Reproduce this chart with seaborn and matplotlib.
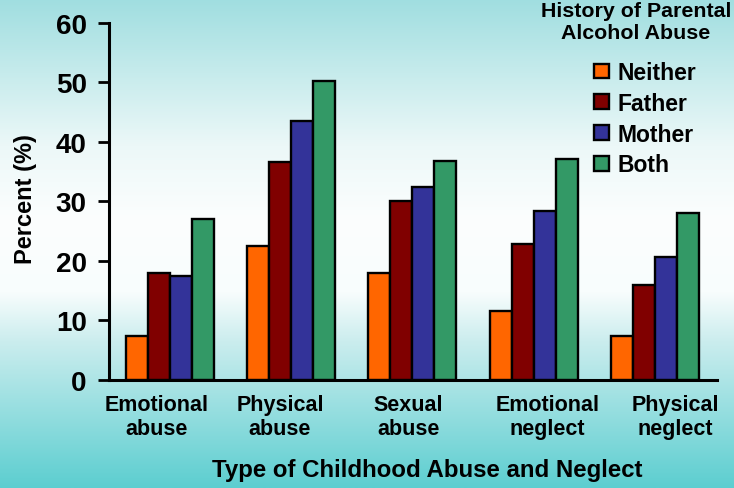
import numpy as np
import pandas as pd
import matplotlib
matplotlib.use("Agg")
import matplotlib.pyplot as plt
import matplotlib.transforms as mtransforms
import seaborn as sns

# ---- data ----
categories = ["Emotional\nabuse", "Physical\nabuse", "Sexual\nabuse",
              "Emotional\nneglect", "Physical\nneglect"]
series = ["Neither", "Father", "Mother", "Both"]
neither = [7.4, 22.5, 18.0, 11.6, 7.3]
father = [17.9, 36.6, 30.0, 22.9, 15.9]
mother = [17.4, 43.4, 32.4, 28.4, 20.6]
both = [27.0, 50.2, 36.7, 37.1, 28.0]
yticks = [0, 10, 20, 30, 40, 50, 60]
legend_title = "History of Parental\nAlcohol Abuse"

colors = ["#FF6600", "#800000", "#333399", "#339966"]
label_dx = [-13, -11, -4, 14, 20]  # px offsets of category labels

rows = []
for s, vals in zip(series, [neither, father, mother, both]):
    for c, v in zip(categories, vals):
        rows.append({"cat": c, "series": s, "val": v})
df = pd.DataFrame(rows)

sns.set_style("ticks")
plt.rcParams["font.family"] = ["Liberation Sans", "DejaVu Sans"]
plt.rcParams["font.weight"] = "bold"
for k in ["text.color", "axes.labelcolor", "xtick.color", "ytick.color",
          "xtick.labelcolor", "ytick.labelcolor"]:
    plt.rcParams[k] = "black"

fig = plt.figure(figsize=(7.34, 4.89), dpi=100)

# background gradient
bg = fig.add_axes([0, 0, 1, 1], zorder=-10)
stops = [0.0, 0.30, 0.45, 0.60, 0.70, 1.0]
cols = np.array([(160, 222, 224), (236, 248, 248), (252, 254, 254),
                 (248, 253, 253), (203, 237, 238), (92, 206, 208)]) / 255.0
yy = np.linspace(0, 1, 489)
grad = np.stack([np.interp(yy, stops, cols[:, i]) for i in range(3)], axis=-1)
bg.imshow(grad[:, None, :], aspect="auto", extent=[0, 1, 0, 1], origin="upper")
bg.set_axis_off()

ax = fig.add_axes([0.1485, 0.2209, 0.828, 0.731])
ax.patch.set_alpha(0)

sns.barplot(data=df, x="cat", y="val", hue="series", palette=colors,
            width=0.725, saturation=1, edgecolor="black", linewidth=1.7,
            ax=ax, errorbar=None)

ax.set_xlim(-0.5, 4.51)
ax.set_ylim(0, 60)
ax.set_yticks(yticks)
ax.set_yticklabels([str(t) for t in yticks], fontsize=20, fontweight="bold")
ax.tick_params(axis="y", length=8, width=2, pad=8, direction="out")
ax.tick_params(axis="x", length=0, pad=10, labelsize=15.5)
for lab in ax.get_xticklabels():
    lab.set_fontweight("bold")
for lab, dx in zip(ax.get_xticklabels(), label_dx):
    lab.set_transform(lab.get_transform() +
                      mtransforms.ScaledTranslation(dx / 100, 0, fig.dpi_scale_trans))

for s in ["top", "right"]:
    ax.spines[s].set_visible(False)
for s in ["left", "bottom"]:
    ax.spines[s].set_linewidth(2.2)
    ax.spines[s].set_color("black")

ax.set_xlabel("Type of Childhood Abuse and Neglect", fontsize=17.3, fontweight="bold")
ax.xaxis.set_label_coords(0.524, -0.25)
ax.xaxis.label.set_va("center")
ax.set_ylabel("Percent (%)", fontsize=17, fontweight="bold")
ax.yaxis.set_label_coords(-0.138, 0.51)
ax.yaxis.label.set_va("center")

# legend title as separate centred text
fig.text(636 / 734, 1 - 2 / 489, legend_title, ha="center", va="top",
         multialignment="center", fontsize=15.4, fontweight="bold",
         linespacing=1.2)

handles, labels = ax.get_legend_handles_labels()
leg = ax.legend(handles, labels, loc="upper left",
                bbox_to_anchor=(594 / 734, 1 - 62 / 489),
                bbox_transform=fig.transFigure, frameon=False,
                prop={"size": 16.5, "weight": "bold"},
                handlelength=0.655, handleheight=0.61, handletextpad=0.35,
                labelspacing=0.34, borderpad=0, borderaxespad=0)
for h in leg.legend_handles:
    h.set_edgecolor("black")
    h.set_linewidth(1.7)

fig.savefig("out.png", dpi=100)
